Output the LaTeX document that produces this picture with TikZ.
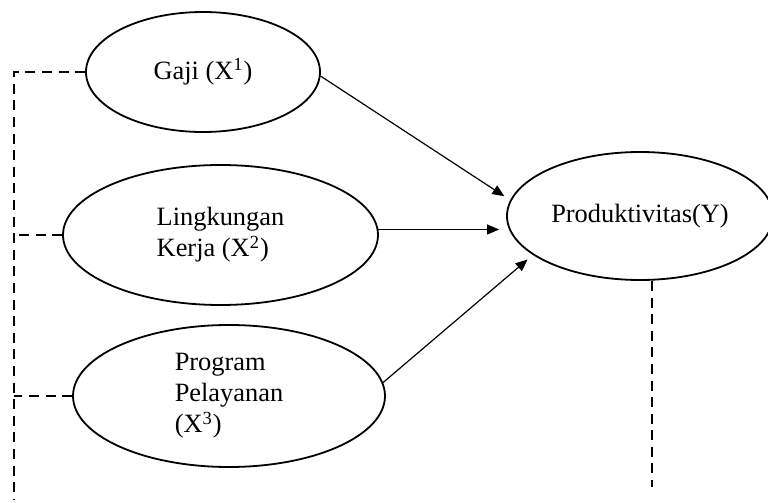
\documentclass[tikz,border=0pt]{standalone}
\usepackage{fontspec}
\setmainfont{Liberation Serif}
\usetikzlibrary{shapes.geometric,arrows.meta}
\begin{document}
\begin{tikzpicture}%
	[x=0.5pt, y=-0.5pt,
	var/.style={ellipse, draw=black, line width=0.9pt, inner sep=0pt, align=left,
		font=\fontsize{13.2pt}{15.5pt}\selectfont},
	arr/.style={-{Triangle[length=6pt,width=5pt]}, line width=0.6pt, shorten >=3.5pt},
	link/.style={line width=0.8pt, dash pattern=on 5pt off 3.3pt}]
	%
	\useasboundingbox (0,0) rectangle (768,503);
	%
	%% variables
	\node[var, minimum width=117pt, minimum height=60pt] (gaji) at (203,72) {Gaji (X\textsuperscript{1})};
	\node[var, minimum width=157.5pt, minimum height=70pt] (lk) at (220.5,235) {Lingkungan\\Kerja (X\textsuperscript{2})};
	\node[var, minimum width=156pt, minimum height=71pt] (prog) at (229,396) {Program\\Pelayanan\\(X\textsuperscript{3})};
	\node[var, minimum width=133pt, minimum height=64pt] (prod) at (640,216) {Produktivitas(Y)};
	%
	%% dashed links
	\coordinate (lbot) at (14,500);
	\coordinate (rbot) at (652,487);
	\draw[link] (gaji.west) -| (lbot);
	\draw[link] (lk.west) -- (lk.west -| lbot);
	\draw[link] (prog.west) -- (prog.west -| lbot);
	\draw[link] (prod.south -| rbot) -- (rbot);
	%
	%% arrows
	\draw[arr] (gaji.-2) -- (prod.173);
	\draw[arr] (lk.2) -- (lk.2 -| prod.west);
	\draw[arr] (prog.5) -- (prod.200);
\end{tikzpicture}
\end{document}
